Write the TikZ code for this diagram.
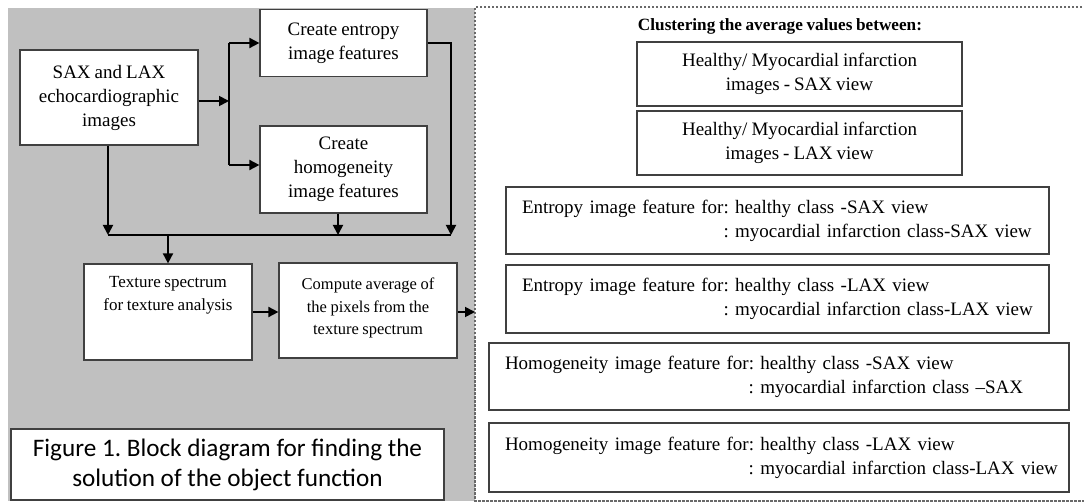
\documentclass[tikz,border=0pt]{standalone}
\usepackage{fontspec}
\setmainfont{Liberation Serif}[WordSpace=0.85]
\newfontfamily\capfont{Carlito}
\usetikzlibrary{arrows.meta,calc}
\definecolor{panelgray}{RGB}{192,192,192}
\definecolor{edge}{RGB}{64,64,64}
\definecolor{dashgray}{RGB}{105,105,105}

\begin{document}
\frenchspacing
\begin{tikzpicture}[x=1pt,y=-1pt,
  box/.style={draw=edge,line width=1.2pt,fill=white,align=center,inner sep=0pt},
  big/.style={font=\fontsize{19}{24}\selectfont},
  small/.style={font=\fontsize{16.5}{22.5}\selectfont},
  wide/.style={box,align=left,inner xsep=16pt,font=\fontsize{19}{24}\selectfont},
  flow/.style={line width=1.8pt,-{Triangle[length=10pt,width=10pt]}},
  wire/.style={line width=1.8pt}]
\useasboundingbox (0,0) rectangle (1084,502);

% left grey panel and dashed frame of the clustering results
\fill[panelgray] (8,8) rectangle (475,501);
\draw[dashgray,line width=1.3pt,dash pattern=on 2.5pt off 1.5pt]
  (1090,7) -- (475,7) -- (475,501) -- (1090,501);

% processing blocks
\node[box,big,minimum width=178pt,minimum height=95pt] (src) at (109,97.5)
  {SAX and LAX\\echocardiographic\\images};
\node[box,big,minimum width=167pt,minimum height=67pt] (ent) at (343.5,43)
  {Create entropy\\image features};
\node[box,big,minimum width=167pt,minimum height=87pt] (hom) at (343.5,169.5)
  {Create\\homogeneity\\image features};
\node[box,font=\fontsize{17}{22.5}\selectfont] (tex) at (168,312)
  {\parbox[c][96pt][t]{168pt}{\centering\rule{0pt}{24pt}Texture spectrum\\for texture analysis}};
\node[box,small,minimum width=178pt,minimum height=95pt,text depth=8pt] (cmp) at (368,310.5)
  {Compute average of\\the pixels from the\\texture spectrum};
\node[box,font=\capfont\fontsize{25.2}{30}\selectfont,minimum width=433pt,minimum height=71pt]
  (cap) at (227.5,464.5)
  {Figure 1. Block diagram for finding the\\solution of the object function};

% connectors
\coordinate (split) at (229,101);
\coordinate (up) at (229,43);
\coordinate (dn) at (229,165);
\coordinate (busL) at (108,235);
\coordinate (busR) at (451,235);
\coordinate (panel) at (475,312);
\draw[flow] (src.east |- split) -- (split);
\draw[wire] (up) -- (dn);
\draw[flow] (up) -- (up -| ent.west);
\draw[flow] (dn) -- (dn -| hom.west);
\draw[wire] (busL) -- (busR);
\draw[flow] (src.south -| busL) -- (busL);
\draw[flow] (ent.east) -| (busR);
\draw[flow] ([xshift=-5.5pt]hom.south) -- ([xshift=-5.5pt]hom.south |- busL);
\draw[flow] (tex.north |- busL) -- (tex.north);
\draw[flow] (tex.east) -- (tex.east -| cmp.west);
\draw[flow] (cmp.east |- panel) -- (panel);

% clustering results
\node[font=\bfseries\fontsize{17.2}{20}\selectfont] (ttl) at (780,26)
  {Clustering the average values between:};
\node[box,big,minimum width=325pt,minimum height=64pt] (r1) at (799.5,74)
  {Healthy/ Myocardial infarction\\images - SAX view};
\node[box,big,minimum width=325pt,minimum height=64pt] (r2) at (799.5,143)
  {Healthy/ Myocardial infarction\\images - LAX view};
\node[wide,text width=511pt,minimum height=67pt] (r3) at (777.5,220.5)
  {Entropy image feature for: healthy class -SAX view\\
   \mbox{\hphantom{Entropy image feature for}: myocardial infarction class-SAX view}};
\node[wide,text width=511pt,minimum height=68pt] (r4) at (777.5,299)
  {Entropy image feature for: healthy class -LAX view\\
   \mbox{\hphantom{Entropy image feature for}: myocardial infarction class-LAX view}};
\node[wide,text width=548pt,minimum height=67pt] (r5) at (779,376.5)
  {Homogeneity image feature for: healthy class -SAX view\\
   \mbox{\hphantom{Homogeneity image feature for}: myocardial infarction class –SAX}};
\node[wide,text width=548pt,minimum height=69pt] (r6) at (779,457.5)
  {Homogeneity image feature for: healthy class -LAX view\\
   \mbox{\hphantom{Homogeneity image feature for}: myocardial infarction class-LAX view}};
\end{tikzpicture}
\end{document}
